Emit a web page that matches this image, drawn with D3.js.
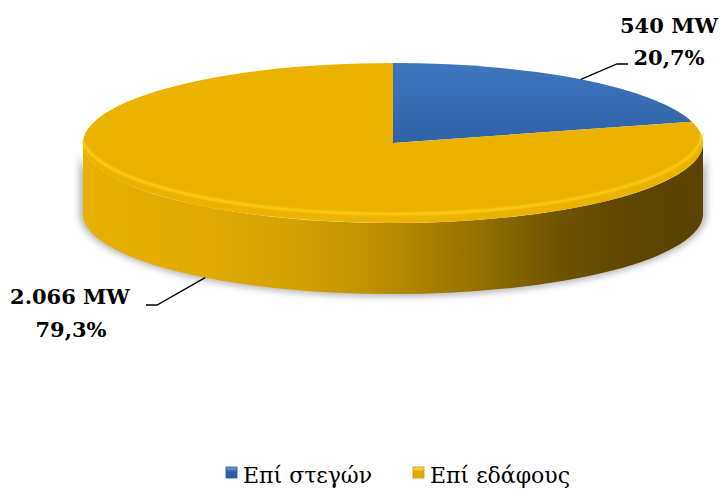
<!DOCTYPE html>
<html>
<head>
<meta charset="utf-8">
<script src="https://cdn.jsdelivr.net/npm/d3@7"></script>
<style>
  body { margin: 0; background: #fff; }
</style>
</head>
<body>
<div id="chart"></div>
<script>
"use strict"

// data
var categories = ["Επί στεγών", "Επί εδάφους"]
var values_mw = [540, 2066]
var value_labels = ["540 MW", "2.066 MW"]
var pct_labels = ["20,7%", "79,3%"]

var settings = {
    width: 725,
    height: 498,
    cx: 393,
    cy: 143,
    rx: 310,
    ry: 80,
    depth: 71
}

var svg = d3.select("#chart").append("svg")
    .attr("width", settings.width)
    .attr("height", settings.height)

var defs = svg.append("defs")

// gradients
var side_grad = defs.append("linearGradient")
    .attr("id", "side_grad")
    .attr("gradientUnits", "userSpaceOnUse")
    .attr("x1", settings.cx - settings.rx).attr("x2", settings.cx + settings.rx)
    .attr("y1", 0).attr("y2", 0)
var side_stops = [
    [0, "#E8B000"], [0.19, "#E0AA00"], [0.35, "#D2A000"], [0.48, "#BC8E00"],
    [0.62, "#9A7400"], [0.77, "#6E5300"], [0.88, "#5E4600"], [1, "#5A4300"]
]
side_stops.forEach(function (s) {
    side_grad.append("stop").attr("offset", s[0]).attr("stop-color", s[1])
})

var blue_grad = defs.append("linearGradient")
    .attr("id", "blue_grad")
    .attr("x1", 0).attr("x2", 0).attr("y1", 0).attr("y2", 1)
blue_grad.append("stop").attr("offset", 0).attr("stop-color", "#3F76BD")
blue_grad.append("stop").attr("offset", 1).attr("stop-color", "#2F62A8")

var top_colors = ["url(#blue_grad)", "#EBB300"]
var legend_colors = [["#7FA8DC", "#2D5FA6"], ["#FFE066", "#E2A800"]]

legend_colors.forEach(function (c, i) {
    var g = defs.append("linearGradient")
        .attr("id", "leg_grad" + i)
        .attr("x1", 0).attr("x2", 0).attr("y1", 0).attr("y2", 1)
    g.append("stop").attr("offset", 0).attr("stop-color", c[0])
    g.append("stop").attr("offset", 0.45).attr("stop-color", c[1])
    g.append("stop").attr("offset", 1).attr("stop-color", c[1])
})

var blur = defs.append("filter").attr("id", "shadow_blur")
    .attr("x", "-20%").attr("y", "-20%").attr("width", "140%").attr("height", "140%")
blur.append("feGaussianBlur").attr("stdDeviation", 3)

var rim_blur = defs.append("filter").attr("id", "rim_blur")
    .attr("x", "-10%").attr("y", "-10%").attr("width", "120%").attr("height", "120%")
rim_blur.append("feGaussianBlur").attr("stdDeviation", 1)

var pie = d3.pie().sort(null).value(function (d) { return d })
var arcs = pie(values_mw)

// point on the ellipse, angle measured clockwise from 12 o'clock
function pt(a, dy) {
    dy = dy || 0
    return [settings.cx + settings.rx * Math.sin(a), settings.cy - settings.ry * Math.cos(a) + dy]
}

function top_path(a0, a1) {
    var p0 = pt(a0), p1 = pt(a1)
    var large = (a1 - a0) > Math.PI ? 1 : 0
    return "M" + settings.cx + "," + settings.cy +
        "L" + p0[0] + "," + p0[1] +
        "A" + settings.rx + "," + settings.ry + " 0 " + large + " 1 " + p1[0] + "," + p1[1] + "Z"
}

function side_path(a0, a1) {
    var s = Math.max(a0, Math.PI / 2), e = Math.min(a1, 3 * Math.PI / 2)
    if (e <= s) return null
    var p0 = pt(s), p1 = pt(e), q1 = pt(e, settings.depth), q0 = pt(s, settings.depth)
    return "M" + p0[0] + "," + p0[1] +
        "A" + settings.rx + "," + settings.ry + " 0 0 1 " + p1[0] + "," + p1[1] +
        "L" + q1[0] + "," + q1[1] +
        "A" + settings.rx + "," + settings.ry + " 0 0 0 " + q0[0] + "," + q0[1] + "Z"
}

// shadow under the pie
var sh0 = pt(Math.PI / 2, 12), sh1 = pt(3 * Math.PI / 2, 12)
svg.append("path")
    .attr("d", "M" + (sh0[0] + 4) + "," + (sh0[1] - 4) +
        "A" + (settings.rx + 4) + "," + (settings.ry + 3) + " 0 0 1 " + (sh1[0] - 4) + "," + (sh1[1] - 4) +
        "L" + (sh1[0] - 4) + "," + (sh1[1] + settings.depth - 12) +
        "A" + (settings.rx + 4) + "," + (settings.ry + 3) + " 0 0 0 " + (sh0[0] + 4) + "," + (sh0[1] + settings.depth - 12) + "Z")
    .attr("fill", "#8c8c8c")
    .attr("opacity", 0.6)
    .attr("filter", "url(#shadow_blur)")

// sides
svg.selectAll("path.side")
    .data(arcs)
    .enter()
    .append("path")
    .attr("class", "side")
    .attr("d", function (d) { return side_path(d.startAngle, d.endAngle) })
    .attr("fill", "url(#side_grad)")

// tops
svg.selectAll("path.top")
    .data(arcs)
    .enter()
    .append("path")
    .attr("class", "top")
    .attr("d", function (d) { return top_path(d.startAngle, d.endAngle) })
    .attr("fill", function (d, i) { return top_colors[i] })

// bevel highlight along the front rim
var r0 = pt(Math.PI * 0.47, -1.5), r1 = pt(Math.PI * 1.5, -1.5)
svg.append("path")
    .attr("d", "M" + r0[0] + "," + r0[1] + "A" + settings.rx + "," + settings.ry + " 0 0 1 " + r1[0] + "," + r1[1])
    .attr("fill", "none")
    .attr("stroke", "#FFD41F")
    .attr("stroke-width", 2.2)
    .attr("filter", "url(#rim_blur)")

// leader lines and labels
var font = "'DejaVu Serif', serif"
var blue_mid = (arcs[0].startAngle + arcs[0].endAngle) / 2
var yel_mid = (arcs[1].startAngle + arcs[1].endAngle) / 2
var a_blue = pt(blue_mid)
var a_yel = pt(yel_mid, settings.depth)

var line = d3.line()
svg.append("path")
    .attr("d", line([a_blue, [617, 64], [628, 64]]))
    .attr("fill", "none").attr("stroke", "#000").attr("stroke-width", 1.3)
svg.append("path")
    .attr("d", line([a_yel, [157, 305], [146, 305]]))
    .attr("fill", "none").attr("stroke", "#000").attr("stroke-width", 1.3)

var lbl = svg.append("g")
    .attr("font-family", font)
    .attr("font-weight", "bold")
    .attr("font-size", 21)
    .attr("fill", "#000")
    .attr("text-anchor", "middle")

lbl.append("text").attr("x", 669).attr("y", 33).text(value_labels[0])
lbl.append("text").attr("x", 669).attr("y", 65).text(pct_labels[0])
lbl.append("text").attr("x", 70).attr("y", 304).text(value_labels[1])
lbl.append("text").attr("x", 71).attr("y", 337).text(pct_labels[1])

// legend
var legend_x = [226, 413]
var leg = svg.append("g")
    .attr("font-family", font)
    .attr("font-size", 22)

categories.forEach(function (c, i) {
    leg.append("rect")
        .attr("x", legend_x[i]).attr("y", 467)
        .attr("width", 11).attr("height", 11)
        .attr("fill", "url(#leg_grad" + i + ")")
        .attr("stroke", i === 0 ? "#2A5697" : "#C99600")
        .attr("stroke-width", 0.8)
    leg.append("text")
        .attr("x", legend_x[i] + 17).attr("y", 483)
        .attr("fill", "#000")
        .text(c)
})
</script>
</body>
</html>
